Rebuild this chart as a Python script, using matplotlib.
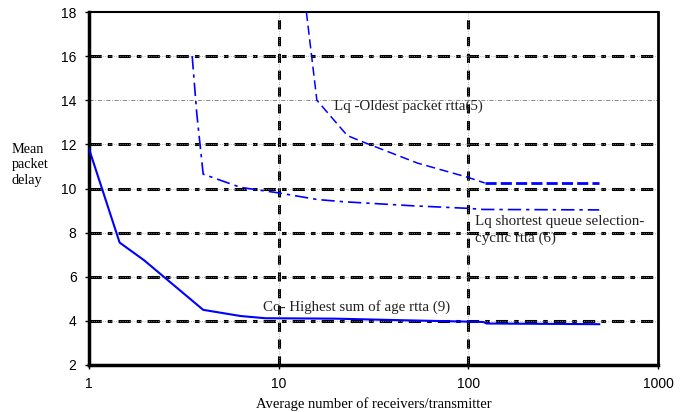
import matplotlib
matplotlib.use("Agg")
import matplotlib.pyplot as plt

# --- data ---
co_x = [1, 1.45, 1.95, 4.0, 6.3, 8.5, 20, 50, 120, 125, 490]
co_y = [11.8, 7.55, 6.75, 4.5, 4.22, 4.12, 4.1, 4.02, 3.95, 3.88, 3.85]

short_x = [3.5, 3.7, 4.0, 6.3, 10, 16, 22, 50, 100, 120, 490]
short_y = [16.0, 13.4, 10.65, 10.05, 9.8, 9.5, 9.4, 9.22, 9.1, 9.05, 9.03]

old_x = [14.0, 15.9, 23, 28, 54, 100, 122]
old_y = [18.0, 14.0, 12.4, 12.1, 11.15, 10.5, 10.25]
old_flat_x = [122, 490]
old_flat_y = [10.25, 10.25]

y_ticks = [2, 4, 6, 8, 10, 12, 14, 16, 18]
x_ticks = [1, 10, 100, 1000]
x_tick_labels = ["1", "10", "100", "1000"]
heavy_y_grid = [4, 6, 8, 10, 12, 16]
light_y_grid = [14]
x_grid = [10, 100]

serif = "Liberation Serif"
sans = "Liberation Sans"

fig = plt.figure(figsize=(6.83, 4.12), dpi=100)
ax = fig.add_axes([89 / 683, 1 - 365 / 412, 569 / 683, 353 / 412])

ax.set_xscale("log")
ax.set_xlim(1, 1000)
ax.set_ylim(2, 18)

# grid lines: heavy black dash-dot with a fine grey dotted overlay
for g in heavy_y_grid:
    ax.axhline(g, color="black", lw=2.2, ls=(0, (4, 2, 1.5, 2)), zorder=1)
    ax.axhline(g, color="#999999", lw=0.6, ls=":", zorder=1.1)
for g in light_y_grid:
    ax.axhline(g, color="#777777", lw=0.6, ls=(0, (5, 2, 1, 2)), zorder=1)
for g in x_grid:
    ax.axvline(g, color="black", lw=2.2, ls=(0, (3, 2.5)), zorder=1)
    ax.axvline(g, color="#999999", lw=0.6, ls=":", zorder=1.1)

# curves
ax.plot(co_x, co_y, color="blue", lw=1.5, zorder=3)
ax.plot(short_x, short_y, color="blue", lw=1.2, ls=(0, (8, 3, 2, 3)), zorder=3)
ax.plot(old_x, old_y, color="blue", lw=1.1, ls=(0, (6, 3)), zorder=3)
ax.plot(old_flat_x, old_flat_y, color="blue", lw=2.0, ls=(0, (4, 1.5)), zorder=3)

# annotations
ax.text(19.6, 13.75, "Lq -Oldest packet rtta(5)", fontsize=10.8, family=serif,
        color="#222222", va="center", ha="left")
ax.text(108, 8.5, "Lq shortest queue selection-", fontsize=10.8, family=serif,
        color="#222222", va="center", ha="left")
ax.text(108, 7.75, "cyclic rtta (6)", fontsize=10.8, family=serif,
        color="#222222", va="center", ha="left")
ax.text(8.3, 4.62, "Co- Highest sum of age rtta (9)", fontsize=10.8, family=serif,
        color="#222222", va="center", ha="left")

# axes styling
ax.set_xticks(x_ticks)
ax.set_xticklabels(x_tick_labels)
ax.minorticks_off()
ax.set_yticks(y_ticks)
ax.tick_params(axis="both", labelsize=10, length=3, width=1, pad=6)
for lab in ax.get_xticklabels() + ax.get_yticklabels():
    lab.set_family(sans)
ax.spines["left"].set_linewidth(2.5)
ax.spines["bottom"].set_linewidth(2.5)
ax.spines["top"].set_linewidth(1.5)
ax.spines["right"].set_linewidth(2.0)

ax.set_xlabel("Average number of receivers/transmitter", fontsize=10.5, family=serif,
              labelpad=4)
fig.text(12 / 683, 1 - 165 / 412, "Mean\npacket\ndelay", fontsize=10.3, family=serif,
         va="center", ha="left", linespacing=1.25)

fig.savefig("out.png", dpi=100)
